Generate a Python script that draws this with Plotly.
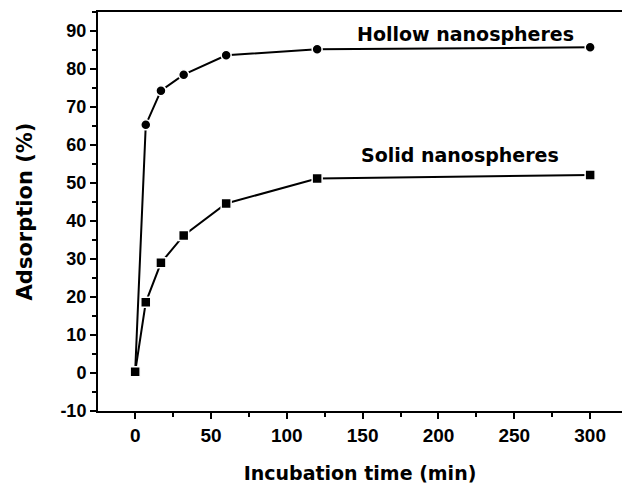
import plotly.graph_objects as go

time_hollow = [0, 7, 17, 32, 60, 120, 300]
adsorption_hollow = [0.3, 65.3, 74.3, 78.5, 83.6, 85.2, 85.7]
time_solid = [0, 7, 17, 32, 60, 120, 300]
adsorption_solid = [0.3, 18.6, 29.0, 36.2, 44.6, 51.2, 52.1]

x_ticks = [0, 50, 100, 150, 200, 250, 300]
y_ticks = [-10, 0, 10, 20, 30, 40, 50, 60, 70, 80, 90]
y_ticklabels = ["-10", "0", "10", "20", "30", "40", "50", "60", "70", "80", "90"]

FONT = "Liberation Sans, Arial, sans-serif"
TFONT = "DejaVu Sans, Verdana, sans-serif"

fig = go.Figure()
fig.add_trace(go.Scatter(
    x=time_hollow, y=adsorption_hollow, mode="lines+markers",
    line=dict(color="black", width=2),
    marker=dict(symbol="circle", size=10, color="black", line=dict(color="white", width=1.5)),
    showlegend=False, cliponaxis=False))
fig.add_trace(go.Scatter(
    x=time_solid, y=adsorption_solid, mode="lines+markers",
    line=dict(color="black", width=2),
    marker=dict(symbol="square", size=10, color="black", line=dict(color="white", width=1.5)),
    showlegend=False, cliponaxis=False))

fig.add_annotation(x=0.702, y=89.2, xref="paper", yref="y", text="Hollow nanospheres",
                   xanchor="center", yanchor="middle", showarrow=False,
                   font=dict(family=TFONT, size=19, color="black", weight="bold"))
fig.add_annotation(x=0.691, y=57.4, xref="paper", yref="y", text="Solid nanospheres",
                   xanchor="center", yanchor="middle", showarrow=False,
                   font=dict(family=TFONT, size=19, color="black", weight="bold"))

fig.update_layout(
    width=622, height=484,
    margin=dict(l=98, r=0, t=12, b=73),
    paper_bgcolor="white", plot_bgcolor="white",
    font=dict(family=FONT, color="black"),
    xaxis=dict(
        range=[-24.5, 321], tickvals=x_ticks,
        ticks="outside", ticklen=6, tickwidth=2, tickcolor="black",
        minor=dict(dtick=25, tick0=0, ticks="outside", ticklen=4, tickwidth=2, tickcolor="black"),
        showline=True, linecolor="black", linewidth=2, mirror=True,
        showgrid=False, zeroline=False, automargin=False,
        tickfont=dict(family=FONT, size=19, color="black", weight="bold"),
        title=dict(text="Incubation time (min)", font=dict(family=TFONT, size=19, color="black", weight="bold"), standoff=24),
    ),
    yaxis=dict(
        range=[-10, 95], tickvals=y_ticks, ticktext=y_ticklabels,
        ticks="outside", ticklen=6, tickwidth=2, tickcolor="black",
        minor=dict(dtick=5, tick0=0, ticks="outside", ticklen=4, tickwidth=2, tickcolor="black"),
        showline=True, linecolor="black", linewidth=2, mirror=False,
        showgrid=False, zeroline=False, automargin=False,
        tickfont=dict(family=FONT, size=18, color="black", weight="bold"),
        title=dict(text="Adsorption (%)", font=dict(family=TFONT, size=21, color="black", weight="bold"), standoff=22),
    ),
)

fig.write_html("out.html", config={"displayModeBar": False},
               post_script="document.body.style.margin='0';")
